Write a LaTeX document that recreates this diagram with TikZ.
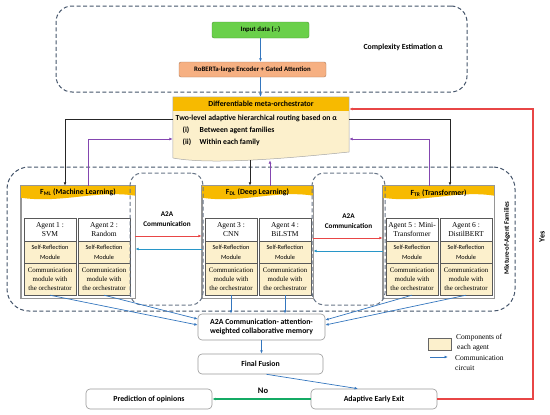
\documentclass[tikz,border=0pt]{standalone}
\usepackage{fontspec}
\setmainfont{Carlito}
\newfontfamily\tnr{Liberation Serif}
\usetikzlibrary{calc,arrows.meta}
\definecolor{dashGrey}{RGB}{68,84,106}
\definecolor{headOrange}{RGB}{247,186,0}
\definecolor{compYellow}{RGB}{252,240,204}
\definecolor{inGreen}{RGB}{106,208,74}
\definecolor{encSalmon}{RGB}{246,176,130}
\definecolor{loopRed}{RGB}{232,70,70}
\definecolor{routePurple}{RGB}{132,70,176}
\definecolor{linkBlue}{RGB}{52,118,190}
\definecolor{a2aCyan}{RGB}{40,150,200}
\definecolor{exitGreen}{RGB}{20,170,100}
\definecolor{famEdge}{RGB}{150,150,150}

\tikzset{
  bold7/.style={font=\bfseries\fontsize{6.8}{8}\selectfont},
  bold8/.style={font=\bfseries\fontsize{7.8}{9.6}\selectfont},
  grp/.style={draw=dashGrey,line width=1pt,dash pattern=on 4pt off 2.5pt,inner sep=0pt},
  inbox/.style={bold7,draw=inGreen!70!black,fill=inGreen,rounded corners=2pt,minimum width=97pt,minimum height=16pt,inner sep=0pt},
  encbox/.style={bold7,draw=encSalmon!70!black,fill=encSalmon,rounded corners=2pt,minimum width=147pt,minimum height=15pt,inner sep=0pt},
  procbox/.style={bold8,draw=gray!80,fill=white,rounded corners=4pt,line width=0.6pt,align=center,inner sep=0pt},
  fambox/.style={draw=famEdge,fill=white,line width=0.6pt,inner sep=0pt},
  agname/.style={draw=gray!70!black,fill=white,font=\tnr\fontsize{7.5}{9.3}\selectfont,align=center,inner sep=0pt,minimum width=52pt,minimum height=23pt},
  selfref/.style={draw=gray!70!black,fill=compYellow,font=\fontsize{6.3}{10}\selectfont,align=center,inner sep=0pt,minimum width=52pt,minimum height=22pt},
  commod/.style={draw=gray!70!black,fill=compYellow,font=\tnr\fontsize{6.9}{8.8}\selectfont,align=center,inner sep=0pt,minimum width=52pt,minimum height=32pt},
  legtxt/.style={font=\tnr\fontsize{7.5}{10}\selectfont,align=left,inner sep=0pt},
  arr/.style={-{Latex[length=3.4pt,width=2.8pt]}},
  blink/.style={arr,draw=linkBlue,line width=0.7pt},
  redlink/.style={arr,draw=loopRed,line width=0.8pt},
  cyanlink/.style={arr,draw=a2aCyan,line width=0.8pt},
  blkline/.style={arr,draw=black!85,line width=0.9pt},
  purpline/.style={arr,draw=routePurple,line width=0.9pt},
  greenlink/.style={arr,draw=exitGreen,line width=1.2pt},
  yesloop/.style={arr,draw=loopRed,line width=1.4pt}
}

\begin{document}
\begin{tikzpicture}[x=1pt,y=-1pt]
\useasboundingbox (0,0) rectangle (550,415);

% encoder block
\node[grp,rounded corners=16pt,minimum width=411pt,minimum height=86pt] (topgrp) at (261.5,49) {};
\node[inbox] (input) at (260.5,30) {Input data ($x$)};
\node[encbox] (enc) at (252.5,69.5) {RoBERTa-large Encoder + Gated Attention};
\node[bold8,anchor=west] (cplx) at (360,47) {Complexity Estimation α};

% orchestrator
\node[minimum width=176pt,minimum height=63pt,inner sep=0pt] (orch) at (261,128.5) {};
\fill[compYellow] (orch.north west) -- (orch.north east) -- (349,152) .. controls (310,156) and (215,166) .. (173,158) -- cycle;
\fill[headOrange] (orch.north west) rectangle (349,111);
\draw[gray!70,line width=0.5pt] (orch.north west) -- (orch.north east) -- (349,152) .. controls (310,156) and (215,166) .. (173,158) -- cycle;
\node[bold8] (orchtitle) at (261,104) {Differentiable meta-orchestrator};
\node[anchor=north west,align=left,inner sep=0pt,font=\bfseries\fontsize{7.7}{12}\selectfont] (routing) at (175.5,114.5) {Two-level adaptive hierarchical routing based on α\\
\hspace*{7pt}\makebox[17pt][l]{(i)}Between agent families\\
\hspace*{7pt}\makebox[17pt][l]{(ii)}Within each family};

% agent families
\node[grp,rounded corners=22pt,minimum width=508pt,minimum height=144pt] (mix) at (261,239) {};
\node[bold7,rotate=90] (mixlbl) at (507,238) {Mixture-of-Agent Families};

\node[fambox,minimum width=114pt,minimum height=112pt] (fmlbox) at (78,242) {};
\node[fambox,minimum width=111pt,minimum height=112pt] (fdlbox) at (257.5,242) {};
\node[fambox,minimum width=111pt,minimum height=112pt] (ftrbox) at (438.5,242) {};
\foreach \f in {fmlbox,fdlbox,ftrbox} {
  \fill[headOrange] (\f.north west) -- (\f.north east) -- ($(\f.north east)+(0,10)$) .. controls +(-38,-6) and +(40,6) .. ($(\f.north west)+(0,12)$) -- cycle;
  \draw[famEdge,line width=0.6pt] (\f.north west) rectangle (\f.south east);
}
\node[bold8] (fmlhead) at ($(fmlbox.north)+(0,7)$) {F\textsubscript{ML} (Machine Learning)};
\node[bold8] (fdlhead) at ($(fdlbox.north)+(0,7)$) {F\textsubscript{DL} (Deep Learning)};
\node[bold8] (ftrhead) at ($(ftrbox.north)+(0,7)$) {F\textsubscript{TR} (Transformer)};

\foreach \i/\cx/\who in {1/50/{Agent 1 :\\SVM},2/104/{Agent 2 :\\Random},3/231/{Agent 3 :\\CNN},4/285/{Agent 4 :\\BiLSTM},5/412/{Agent 5 : Mini-\\Transformer},6/466/{Agent 6 :\\DistilBERT}} {
  \node[agname] (ag\i) at (\cx,229.5) {\who};
  \node[selfref] (sr\i) at (\cx,252) {Self-Reflection\\Module};
  \node[commod] (cm\i) at (\cx,279) {Communication\\module with\\the orchestrator};
}

% A2A links between families
\node[grp,draw=dashGrey!80,rounded corners=12pt,minimum width=73pt,minimum height=132pt] (a2aL) at (166.5,239) {};
\node[grp,draw=dashGrey!80,rounded corners=12pt,minimum width=73pt,minimum height=132pt] (a2aR) at (348.5,239) {};
\node[bold7,align=center,font=\bfseries\fontsize{7.2}{10}\selectfont] (a2aLtxt) at (167,219) {A2A\\Communication};
\node[bold7,align=center,font=\bfseries\fontsize{7.2}{10}\selectfont] (a2aRtxt) at (348.5,221) {A2A\\Communication};
\draw[redlink] (fmlbox.east |- 0,236) -- (fdlbox.west |- 0,236);
\draw[cyanlink] (fdlbox.west |- 0,249) -- (fmlbox.east |- 0,249);
\draw[redlink] (fdlbox.east |- 0,238) -- (ftrbox.west |- 0,238);
\draw[cyanlink] (ftrbox.west |- 0,251) -- (fdlbox.east |- 0,251);

% routing to and from the orchestrator
\draw[blink] (input.south) -- (input.south |- enc.north);
\draw[blink] (input.south |- enc.south) -- (input.south |- orch.north);
\draw[blkline] ([yshift=9.5pt]orch.west) -| ([xshift=-13pt]fmlbox.north);
\draw[purpline] ([xshift=10pt]fmlbox.north) |- ([yshift=-10.5pt]orch.west);
\draw[blkline] ([yshift=9.5pt]orch.east) -| ([xshift=11.5pt]ftrbox.north);
\draw[purpline] ([xshift=-9.5pt]ftrbox.north) |- ([yshift=-10.5pt]orch.east);
\coordinate (dlin) at ([xshift=-7.5pt]fdlbox.north);
\coordinate (dlout) at ([xshift=12.5pt]fdlbox.north);
\draw[blkline] (dlin |- orch.south) -- (dlin);
\draw[purpline] (dlout) -- (dlout |- orch.south);

% memory, fusion and exit
\node[procbox,minimum width=127pt,minimum height=26pt] (mem) at (261.5,327) {A2A Communication- attention-\\weighted collaborative memory};
\node[procbox,minimum width=125pt,minimum height=20pt] (fusion) at (260.5,364) {Final Fusion};
\node[procbox,minimum width=126pt,minimum height=20pt] (aee) at (374,399) {Adaptive Early Exit};
\node[procbox,minimum width=126pt,minimum height=20pt] (pred) at (149,399) {Prediction of opinions};

\draw[blink] (cm1.south) -- (mem.west |- 0,325);
\draw[blink] (cm2.south) -- (mem.west |- 0,319);
\draw[blink] (cm3.south) -- (cm3.south |- mem.north);
\draw[blink] (cm4.south) -- (cm4.south |- mem.north);
\draw[blink] (cm5.south) -- (mem.east |- 0,320);
\draw[blink] (cm6.south) -- (mem.east |- 0,325);
\draw[blink] (mem.south) -- (mem.south |- fusion.north);
\draw[blink] ([xshift=6pt]fusion.south) -- ([xshift=-16pt]aee.north);
\draw[greenlink] (aee.west) -- (pred.east);
\node[font=\bfseries\fontsize{8.5}{9}\selectfont] (nolbl) at (263,391) {No};

\coordinate (yesbend) at (533,109);
\draw[yesloop] (aee.east) -| (yesbend) -- (orch.east |- yesbend);
\node[font=\bfseries\fontsize{8}{9}\selectfont,rotate=90] (yeslbl) at (542,237) {Yes};

% legend
\node[draw=gray!80!black,fill=compYellow,minimum width=23pt,minimum height=12pt,inner sep=0pt] (legbox) at (439.5,344) {};
\node[legtxt,anchor=west] (legcomp) at (456,343) {Components of\\\hspace*{1pt}each agent};
\coordinate (legA) at (430,357);
\coordinate (legB) at (448,357);
\draw[blink] (legA) -- (legB);
\node[legtxt,anchor=west] (legcirc) at (455,363) {Communication\\circuit};
\end{tikzpicture}
\end{document}
